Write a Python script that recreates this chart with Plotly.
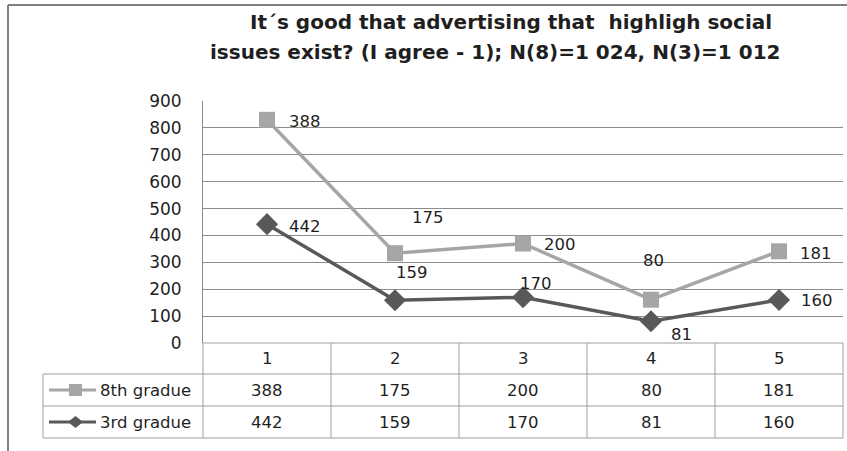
import numpy as np
import plotly.graph_objects as go

# Survey answers per scale point (1 = agree)
categories = ["1", "2", "3", "4", "5"]
grade8 = [388, 175, 200, 80, 181]
grade3 = [442, 159, 170, 81, 160]
series_names = ["8th gradue", "3rd gradue"]
y_ticks = [0, 100, 200, 300, 400, 500, 600, 700, 800, 900]
title_lines = ["It´s good that advertising that  highligh social",
               "issues exist? (I agree - 1); N(8)=1 024, N(3)=1 012"]

# stacked line: 8th grade drawn on top of 3rd grade
g3 = np.array(grade3)
g8_top = g3 + np.array(grade8)
xs = np.arange(1, len(categories) + 1)

# pixel offsets of the data labels from their points (dx, dy up)
off8 = [(38, -2), (33, 36), (37, -1), (2, 39), (37, -2)]
off3 = [(38, -2), (17, 28), (13, 14), (30, -13), (38, -1)]

W, H = 847, 451
PL, PR, PT, PB = 203, 843, 101, 343  # plot area in pixels
FONT = "'DejaVu Sans', sans-serif"
FS = 16.5
TXT = "#1f1f1f"
LINE = "#8c8c8c"
C8 = "#a6a6a6"
C3 = "#595959"


def px(x):
    return (x - PL) / (PR - PL)


def py(y):
    return (PB - y) / (PB - PT)


def label(x, y, text, **kw):
    d = dict(x=x, y=y, text=text, showarrow=False, xanchor="center", yanchor="middle",
             font=dict(size=FS, color=TXT, family=FONT))
    d.update(kw)
    return d


fig = go.Figure()
fig.add_trace(go.Scatter(x=xs, y=g8_top, mode="lines+markers", name=series_names[0],
                         line=dict(color=C8, width=3.5),
                         marker=dict(symbol="square", size=16, color=C8)))
fig.add_trace(go.Scatter(x=xs, y=g3, mode="lines+markers", name=series_names[1],
                         line=dict(color=C3, width=3.5),
                         marker=dict(symbol="diamond", size=17, color=C3)))

ann = []
for i in range(len(categories)):
    ann.append(label(xs[i], g8_top[i], str(grade8[i]), xref="x", yref="y",
                     xshift=off8[i][0], yshift=off8[i][1]))
    ann.append(label(xs[i], g3[i], str(grade3[i]), xref="x", yref="y",
                     xshift=off3[i][0], yshift=off3[i][1]))

# two-line bold title, each line centred on its own
for line_text, cx, cy in zip(title_lines, [511, 495], [22, 52]):
    ann.append(dict(x=px(cx), y=py(cy), xref="paper", yref="paper", text=line_text,
                    showarrow=False, xanchor="center", yanchor="middle",
                    font=dict(size=20, color=TXT, family=FONT, weight="bold")))

shapes = []
# outer chart frame
shapes.append(dict(type="line", xref="paper", yref="paper", x0=px(8), x1=px(847),
                   y0=py(5), y1=py(5), line=dict(color="#7f7f7f", width=2)))
shapes.append(dict(type="line", xref="paper", yref="paper", x0=px(8), x1=px(8),
                   y0=py(5), y1=py(451), line=dict(color="#7f7f7f", width=2)))

# data table below the plot
col_w = (PR - PL) / len(categories)
tl = 43
rows_y = [343, 374, 406, 438]
tcol = "#a0a0a0"
shapes.append(dict(type="line", xref="paper", yref="paper", x0=px(PL), x1=px(PR),
                   y0=py(343), y1=py(343), line=dict(color=tcol, width=1)))
for yy in rows_y[1:]:
    shapes.append(dict(type="line", xref="paper", yref="paper", x0=px(tl), x1=px(PR),
                       y0=py(yy), y1=py(yy), line=dict(color=tcol, width=1)))
shapes.append(dict(type="line", xref="paper", yref="paper", x0=px(tl), x1=px(tl),
                   y0=py(374), y1=py(438), line=dict(color=tcol, width=1)))
for k in range(len(categories) + 1):
    xx = PL + k * col_w
    shapes.append(dict(type="line", xref="paper", yref="paper", x0=px(xx), x1=px(xx),
                       y0=py(343), y1=py(438), line=dict(color=tcol, width=1)))

row_vals = [grade8, grade3]
row_centers = [390, 422]
for k, c in enumerate(categories):
    cx = PL + (k + 0.5) * col_w
    ann.append(label(px(cx), py(358), c, xref="paper", yref="paper"))
    for r in range(2):
        ann.append(label(px(cx), py(row_centers[r]), str(row_vals[r][k]),
                         xref="paper", yref="paper"))

# legend keys inside the table
for r, (col, sym) in enumerate([(C8, "square"), (C3, "diamond")]):
    yc = row_centers[r]
    shapes.append(dict(type="line", xref="paper", yref="paper", x0=px(49), x1=px(96),
                       y0=py(yc), y1=py(yc), line=dict(color=col, width=3)))
    if sym == "square":
        shapes.append(dict(type="rect", xref="paper", yref="paper", x0=px(69), x1=px(82),
                           y0=py(yc - 6), y1=py(yc + 6), fillcolor=col, line=dict(width=0)))
    else:
        path = "M {} {} L {} {} L {} {} L {} {} Z".format(
            px(75.5), py(yc - 6), px(83), py(yc), px(75.5), py(yc + 6), px(68), py(yc))
        shapes.append(dict(type="path", xref="paper", yref="paper", path=path,
                           fillcolor=col, line=dict(width=0)))
    ann.append(label(px(98), py(yc), series_names[r], xref="paper", yref="paper",
                     xanchor="left"))

fig.update_layout(
    width=W, height=H,
    margin=dict(l=PL, r=W - PR, t=PT, b=H - PB, pad=0),
    paper_bgcolor="white", plot_bgcolor="white",
    showlegend=False,
    xaxis=dict(range=[0.5, 5.5], visible=False, fixedrange=True),
    yaxis=dict(range=[0, 900], tickvals=y_ticks, showgrid=True, gridcolor=LINE, gridwidth=1,
               showline=True, linecolor=LINE, linewidth=1, zeroline=False,
               ticks="", ticklabelstandoff=17,
               tickfont=dict(size=17, color=TXT, family=FONT)),
    annotations=ann, shapes=shapes,
)

fig.write_html("out.html")
